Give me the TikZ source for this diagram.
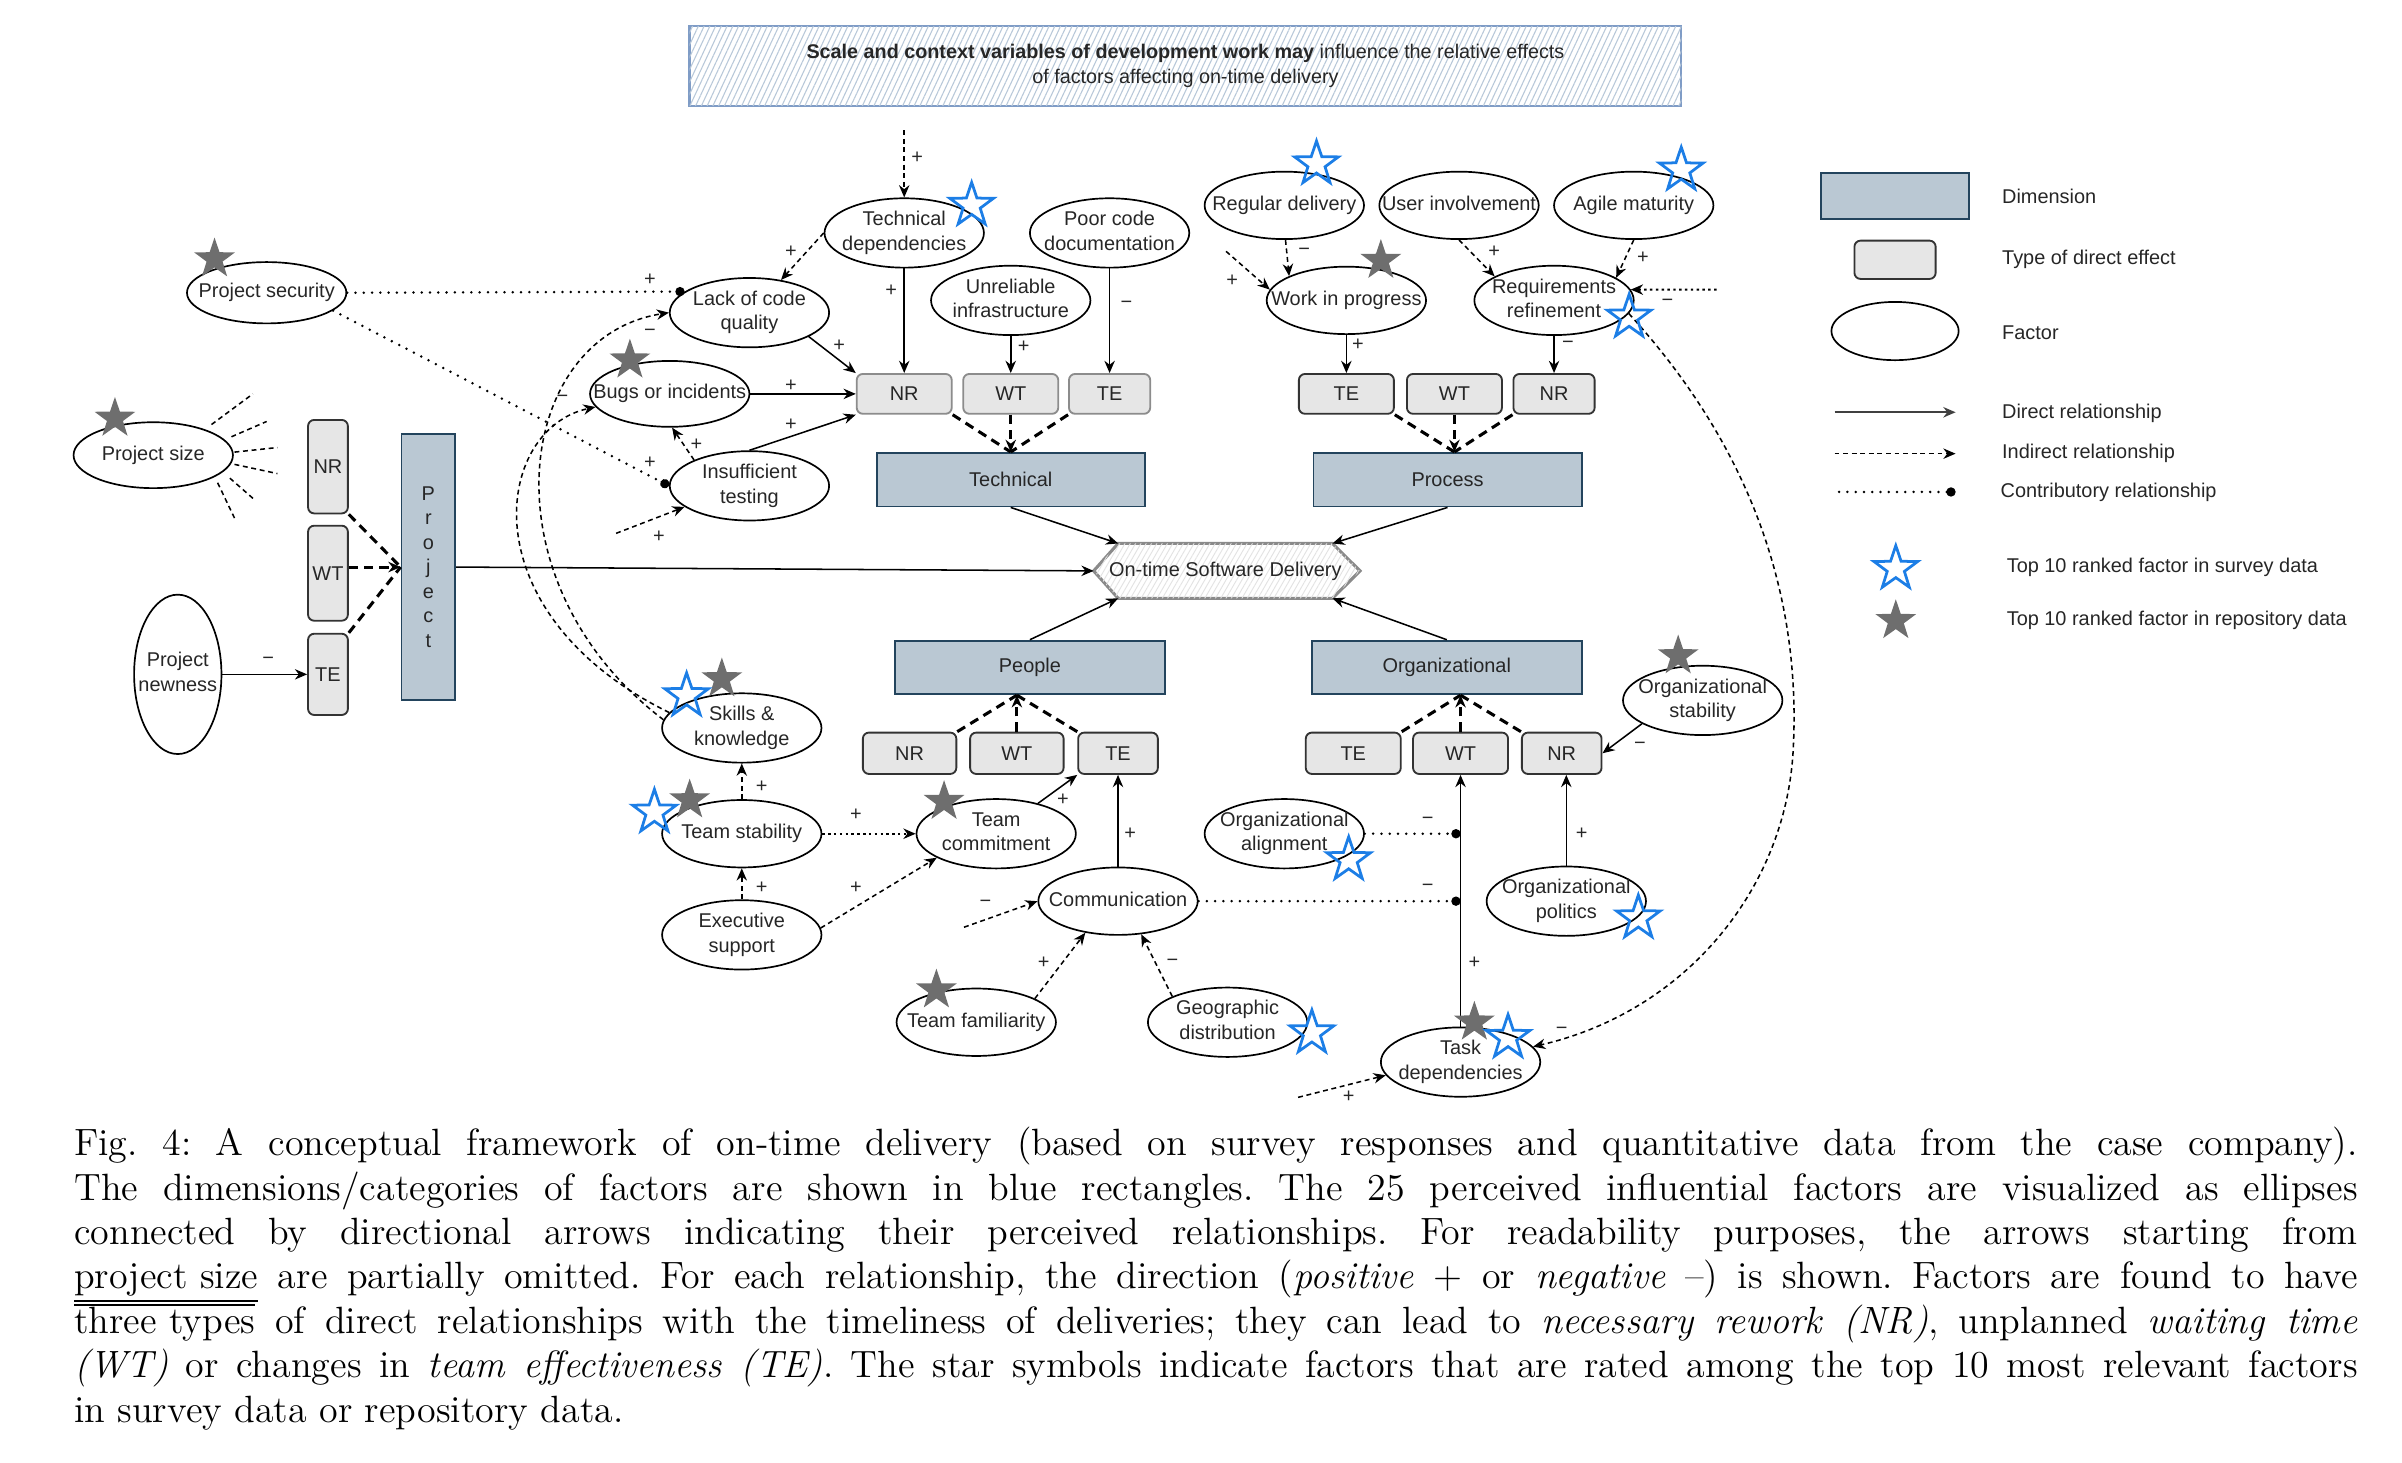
\documentclass[tikz,border=0pt]{standalone}
\usepackage{fontspec}
\newfontfamily\dsans{Liberation Sans}
\usetikzlibrary{shapes.geometric,arrows.meta,calc,patterns.meta,backgrounds}
\definecolor{dimfill}{HTML}{BAC8D3}
\definecolor{dimdraw}{HTML}{23445D}
\definecolor{tfill}{HTML}{E6E6E6}
\definecolor{tdraw}{HTML}{333333}
\definecolor{tdrawl}{HTML}{8C8C8C}
\definecolor{txt}{HTML}{262626}
\definecolor{starb}{HTML}{1C7EE6}
\definecolor{starg}{HTML}{6E6E6E}
\definecolor{topdraw}{HTML}{7F9CC6}
\definecolor{hatchc}{HTML}{B8C8D9}
\definecolor{hexdraw}{HTML}{8A8A8A}
\definecolor{hexhatch}{HTML}{E3E3E3}
\newcommand\dfont{\dsans\fontsize{6.5}{8}\selectfont}
\newcommand\lfont{\dsans\fontsize{6.5}{7.5}\selectfont}
\newcommand\capf{\rmfamily\fontsize{12.4}{14.8}\selectfont\frenchspacing}
\newcommand\fct[1]{\makebox[0pt]{\begin{tabular}{@{}c@{}}#1\end{tabular}}}
\newcommand\myovl[1]{\setbox0\hbox{#1}\rlap{\raisebox{8.8pt}{\rule{\wd0}{0.7pt}}}\box0\relax}
\begin{document}
\begin{tikzpicture}[x=0.5pt,y=-0.5pt,
 fac/.style={ellipse, draw=black, line width=0.55pt, minimum width=52pt, minimum height=22pt, inner sep=0pt, font=\dfont, text=txt},
 tb/.style={rectangle, rounded corners=2pt, draw=tdraw, fill=tfill, line width=0.6pt, minimum width=31pt, minimum height=13pt, inner sep=0pt, font=\dfont, text=txt},
 dimb/.style={rectangle, draw=dimdraw, fill=dimfill, line width=0.6pt, minimum width=87.5pt, minimum height=17.5pt, inner sep=0pt, font=\dfont, text=txt},
 dirc/.style={line width=0.5pt, -{Stealth[length=4pt,width=3.4pt]}},
 indc/.style={line width=0.5pt, dash pattern=on 1.6pt off 1.2pt, -{Stealth[length=4pt,width=3.4pt]}},
 indd/.style={line width=0.6pt, dash pattern=on 0.8pt off 1.1pt, -{Stealth[length=4pt,width=3.4pt]}},
 conc/.style={line width=0.9pt, dash pattern=on 0pt off 2.7pt, line cap=round, -{Circle[length=3pt]}},
 thd/.style={line width=1pt, dash pattern=on 3pt off 2pt},
 rayc/.style={line width=0.5pt, dash pattern=on 1.6pt off 1.2pt},
 lab/.style={font=\dsans\fontsize{6.5}{7}\selectfont, text=txt, inner sep=0pt},
 bst/.style={star, star points=5, star point ratio=2.55, draw=starb, line width=0.9pt, minimum size=15pt, inner sep=0pt},
 gst/.style={star, star points=5, star point ratio=2.55, fill=starg, minimum size=14pt, inner sep=0pt},
 lgt/.style={font=\lfont, text=txt, anchor=west, inner sep=0pt},
 capn/.style={anchor=base west, inner sep=0pt, font=\capf},
 topbox/.style={rectangle, draw=topdraw, line width=0.8pt, fill=white, minimum width=323.5pt, minimum height=26pt, inner sep=0pt, font=\dsans\fontsize{6.45}{8}\selectfont, text=txt, postaction={pattern={Lines[angle=65,distance=1.7pt,line width=0.35pt]}, pattern color=hatchc}}
]
\useasboundingbox (0,0) rectangle (1567.3,954);

% ---------- top box
\node[topbox] (scale) at (773.5,43) {\begin{tabular}{@{}c@{}}\textbf{Scale and context variables of development work may} influence the relative effects\\of factors affecting on-time delivery\end{tabular}};

% ---------- technical factors
\node[fac] (tdep) at (590,152) {\fct{Technical\\dependencies}};
\node[fac] (pcd) at (724,152) {\fct{Poor code\\documentation}};
\node[fac] (uinf) at (659.5,196) {\fct{Unreliable\\infrastructure}};
\node[fac] (lcq) at (489,204) {\fct{Lack of code\\quality}};
\node[fac, minimum height=20pt] (psec) at (174,191) {\fct{Project security}};
\node[fac, minimum height=21.5pt] (bugs) at (437,257) {\fct{Bugs or incidents}};
\node[fac] (itest) at (489,317) {\fct{Insufficient\\testing}};
\node[fac, minimum height=21.5pt] (psize) at (100,297) {\fct{Project size}};
\node[fac, minimum width=28.5pt, minimum height=52pt] (pnew) at (116,440) {\fct{Project\\newness}};

% ---------- process factors
\node[fac] (rdel) at (838,134) {\fct{Regular delivery}};
\node[fac] (uinv) at (952,134) {\fct{User involvement}};
\node[fac] (agile) at (1066,134) {\fct{Agile maturity}};
\node[fac] (wip) at (878.5,196) {\fct{Work in progress}};
\node[fac] (rref) at (1014,196) {\fct{Requirements\\refinement}};

% ---------- people factors
\node[fac] (skills) at (484,475) {\fct{Skills \&\\knowledge}};
\node[fac] (tstab) at (484,544) {\fct{Team stability}};
\node[fac] (exec) at (484,610) {\fct{Executive\\support}};
\node[fac] (tcom) at (650,544) {\fct{Team\\commitment}};
\node[fac] (comm) at (729.5,588) {\fct{Communication}};
\node[fac] (tfam) at (637,667) {\fct{Team familiarity}};
\node[fac] (geo) at (801,667) {\fct{Geographic\\distribution}};

% ---------- organizational factors
\node[fac] (oalign) at (838,544) {\fct{Organizational\\alignment}};
\node[fac] (opol) at (1022,588) {\fct{Organizational\\politics}};
\node[fac] (ostab) at (1111,457) {\fct{Organizational\\stability}};
\node[fac] (tdeps) at (953,693) {\fct{Task\\dependencies}};

% ---------- type boxes
\node[tb, draw=tdrawl] (tNR) at (590,257) {NR};
\node[tb, draw=tdrawl] (tWT) at (659.5,257) {WT};
\node[tb, draw=tdrawl, minimum width=26.5pt] (tTE) at (724,257) {TE};
\node[tb] (pTE) at (878.5,257) {TE};
\node[tb] (pWT) at (949,257) {WT};
\node[tb, minimum width=26.5pt] (pNR) at (1014,257) {NR};
\node[tb, minimum width=30.5pt, minimum height=13.5pt] (peNR) at (593.5,491.5) {NR};
\node[tb, minimum width=30.5pt, minimum height=13.5pt] (peWT) at (663.5,491.5) {WT};
\node[tb, minimum width=26pt, minimum height=13.5pt] (peTE) at (729.5,491.5) {TE};
\node[tb, minimum height=13.5pt] (oTE) at (883,491.5) {TE};
\node[tb, minimum height=13.5pt] (oWT) at (953,491.5) {WT};
\node[tb, minimum width=26pt, minimum height=13.5pt] (oNR) at (1019,491.5) {NR};
\node[tb, minimum width=13pt, minimum height=30.5pt] (jNR) at (214,304.5) {NR};
\node[tb, minimum width=13pt, minimum height=31pt] (jWT) at (214,374) {WT};
\node[tb, minimum width=13pt, minimum height=26.5pt] (jTE) at (214,440) {TE};

% ---------- dimensions
\node[dimb] (tech) at (659.5,313) {Technical};
\node[dimb] (proc) at (944.5,313) {Process};
\node[dimb, minimum width=88pt] (people) at (672,435.5) {People};
\node[dimb, minimum width=88pt] (org) at (944,435.5) {Organizational};
\node[dimb, minimum width=17.5pt, minimum height=87pt, align=center] (proj) at (279.5,370) {P\\r\\o\\j\\e\\c\\t};

% ---------- on-time delivery
\node[rectangle, minimum width=69.5pt, minimum height=17.5pt, inner sep=0pt, font=\dfont, text=txt] (ot) at (799.5,372.5) {\makebox[0pt]{On-time Software Delivery}};
\coordinate (otL) at ($(ot.west)+(-16,0)$);
\coordinate (otR) at ($(ot.east)+(18,0)$);
\begin{scope}[on background layer]
\draw[hexdraw, line width=1pt, fill=white, postaction={pattern={Lines[angle=60,distance=1.5pt,line width=0.3pt]}, pattern color=hexhatch}] (ot.north west) -- (ot.north east) -- (otR) -- (ot.south east) -- (ot.south west) -- (otL) -- cycle;
\end{scope}

% ---------- technical connectors
\coordinate (tdin) at (590,85);
\draw[indc] (tdin) -- (tdep.north);
\node[lab] (l1) at (598.5,103) {+};
\draw[dirc] (tdep.south) -- (tNR.north);
\node[lab] (l2) at (581.5,190) {+};
\draw[dirc] (uinf.south) -- (uinf.south |- tWT.north);
\node[lab] (l3) at (668,226) {+};
\draw[dirc] (pcd.south) -- (pcd.south |- tTE.north);
\node[lab] (l4) at (735,199) {−};
\draw[dirc] (lcq.-22) -- (tNR.north west);
\node[lab] (l5) at (547.5,225.5) {+};
\draw[dirc] (bugs.east) -- (tNR.west);
\node[lab] (l6) at (516,251.5) {+};
\draw[dirc] (itest.north) -- (tNR.south west);
\node[lab] (l7) at (516,277) {+};
\draw[indc] (tdep.west) -- (lcq.46);
\node[lab] (l8) at (516,164.5) {+};
\draw[conc] (psec.east) -- (lcq.162);
\node[lab] (l9) at (424,182.5) {+};
\draw[conc] (psec.-15) -- (itest.west);
\node[lab] (l10) at (424,302) {+};
\draw[indc] (itest.155) -- (bugs.-86);
\node[lab] (l11) at (454.5,290.5) {+};
\coordinate (itin) at (402,348);
\draw[indc] (itin) -- (itest.198);
\node[lab] (l12) at (430,350) {+};
\draw[indc] (skills.174) .. controls (315,380) and (335,220) .. (lcq.west);
\node[lab] (l13) at (424,217) {−};
\draw[indc] (skills.168) .. controls (305,400) and (322,280) .. (bugs.190);
\node[lab] (l14) at (367,260) {−};

% ---------- project connectors
\draw[rayc] ($(psize.center)+(38,-20)$) -- ($(psize.center)+(65,-40)$);
\draw[rayc] ($(psize.center)+(51,-12)$) -- ($(psize.center)+(74,-22)$);
\draw[rayc] ($(psize.center)+(53,-2)$) -- ($(psize.center)+(81,-5)$);
\draw[rayc] ($(psize.center)+(53,6)$) -- ($(psize.center)+(81,12)$);
\draw[rayc] ($(psize.center)+(50,15)$) -- ($(psize.center)+(66,29)$);
\draw[rayc] ($(psize.center)+(42,18)$) -- ($(psize.center)+(53,41)$);
\draw[thd] (jNR.south east) -- (proj.west);
\draw[thd, -{Stealth[length=4pt,width=3.4pt]}] (jWT.east |- proj.west) -- (proj.west);
\draw[thd] (jTE.north east) -- (proj.west);
\draw[dirc] (pnew.east) -- (jTE.west);
\node[lab] (l15) at (175,431) {−};
\draw[dirc] (proj.east) -- (otL);

% ---------- dimensions to delivery
\draw[dirc] (tech.south) -- (ot.north west);
\draw[dirc] (proc.south) -- (ot.north east);
\draw[dirc] (people.north) -- (ot.south west);
\draw[dirc] (org.north) -- (ot.south east);

% ---------- type boxes to dimensions
\coordinate (techin) at (tWT.south |- tech.north);
\draw[thd] (tNR.south east) -- (techin);
\draw[thd, -{Stealth[length=4pt,width=3.4pt]}] (tWT.south) -- (techin);
\draw[thd] (tTE.south west) -- (techin);
\coordinate (procin) at (pWT.south |- proc.north);
\draw[thd] (pTE.south east) -- (procin);
\draw[thd, -{Stealth[length=4pt,width=3.4pt]}] (pWT.south) -- (procin);
\draw[thd] (pNR.south west) -- (procin);
\coordinate (peoin) at (peWT.north |- people.south);
\draw[thd] (peNR.north east) -- (peoin);
\draw[thd, -{Stealth[length=4pt,width=3.4pt]}] (peWT.north) -- (peoin);
\draw[thd] (peTE.north west) -- (peoin);
\coordinate (orgin) at (oWT.north |- org.south);
\draw[thd] (oTE.north east) -- (orgin);
\draw[thd, -{Stealth[length=4pt,width=3.4pt]}] (oWT.north) -- (orgin);
\draw[thd] (oNR.north west) -- (orgin);

% ---------- process connectors
\draw[indc] (rdel.-88) -- (wip.157);
\node[lab] (l16) at (851,164) {−};
\draw[indc] (uinv.south) -- (rref.158);
\node[lab] (l17) at (975,164) {+};
\draw[indc] (agile.south) -- (rref.20);
\node[lab] (l18) at (1072,168) {+};
\coordinate (wipin) at (800,164);
\draw[indc] (wipin) -- (wip.172);
\node[lab] (l19) at (804,183) {+};
\coordinate (rrefin) at (1120,189);
\draw[indd] (rrefin) -- (rref.8);
\node[lab] (l20) at (1088,197.5) {−};
\draw[dirc] (wip.south) -- (wip.south |- pTE.north);
\node[lab] (l21) at (886,225) {+};
\draw[dirc] (rref.south) -- (rref.south |- pNR.north);
\node[lab] (l22) at (1023,225) {−};
\draw[indc] (rref.-10) .. controls (1150,300) and (1175,400) .. (1170,490) .. controls (1165,580) and (1100,660) .. (tdeps.12);
\node[lab] (l23) at (1019,672.5) {−};

% ---------- people connectors
\draw[indc] (tstab.north) -- (skills.south);
\node[lab] (l24) at (497,513.5) {+};
\draw[indc] (exec.north) -- (tstab.south);
\node[lab] (l25) at (497,579) {+};
\draw[indd] (tstab.east) -- (tcom.west);
\node[lab] (l26) at (558.5,531.5) {+};
\draw[indc] (exec.5) -- (tcom.-158);
\node[lab] (l27) at (558.5,579) {+};
\draw[dirc] (tcom.36) -- (peTE.south west);
\node[lab] (l28) at (693.5,521.5) {+};
\draw[dirc] (comm.north) -- (comm.north |- peTE.south);
\node[lab] (l29) at (737.5,544) {+};
\coordinate (commin) at (629,605);
\draw[indc] (commin) -- (comm.west);
\node[lab] (l30) at (643,589.5) {−};
\draw[indc] (tfam.22) -- (comm.-136);
\node[lab] (l31) at (681,628) {+};
\draw[indc] (geo.155) -- (comm.-55);
\node[lab] (l32) at (765,628) {−};

% ---------- organizational connectors
\draw[dirc] (ostab.-159) -- (oNR.east);
\node[lab] (l33) at (1070,486.5) {−};
\draw[dirc] (tdeps.north) -- (tdeps.north |- oWT.south);
\node[lab] (l34) at (962,628) {+};
\draw[dirc] (opol.north) -- (opol.north |- oNR.south);
\node[lab] (l35) at (1032,544) {+};
\coordinate (dA) at (tdeps.north |- oalign.east);
\draw[conc] (oalign.east) -- (dA);
\node[lab] (l36) at (931.5,535.5) {−};
\coordinate (dC) at (tdeps.north |- comm.east);
\draw[conc] (comm.east) -- (dC);
\node[lab] (l37) at (931.5,579) {−};
\coordinate (tdin2) at (847,716);
\draw[indc] (tdin2) -- (tdeps.190);
\node[lab] (l38) at (880,715.5) {+};

% ---------- stars
\node[bst] (s1) at (634,134) {};
\node[gst] (s2) at (140,169) {};
\node[gst] (s3) at (411,235) {};
\node[gst] (s4) at (75,273) {};
\node[bst] (s5) at (859,107) {};
\node[bst] (s6) at (1097,111) {};
\node[gst] (s7) at (901,170) {};
\node[bst] (s8) at (1063,207) {};
\node[gst] (s9) at (471,443) {};
\node[bst] (s10) at (448,454) {};
\node[gst] (s11) at (450,522) {};
\node[bst] (s12) at (427,530) {};
\node[gst] (s13) at (616,523) {};
\node[gst] (s14) at (611,646) {};
\node[bst] (s15) at (856,674) {};
\node[bst] (s16) at (880,561) {};
\node[bst] (s17) at (1069,599) {};
\node[gst] (s18) at (1095,428) {};
\node[gst] (s19) at (962,667) {};
\node[bst] (s20) at (984,677) {};

% ---------- legend
\node[dimb, minimum width=48.5pt, minimum height=15pt] (lgdim) at (1236.5,128) {};
\node[tb, minimum width=26.5pt, minimum height=12.5pt] (lgtb) at (1236.5,169.5) {};
\node[fac, minimum width=41.5pt, minimum height=19pt] (lgfac) at (1236.5,216) {};
\coordinate (lga1) at (1197,269); \coordinate (lgb1) at (1276,269);
\draw[dirc, draw=black!75, line width=0.7pt] (lga1) -- (lgb1);
\coordinate (lga2) at (1197,296); \coordinate (lgb2) at (1276,296);
\draw[indc] (lga2) -- (lgb2);
\coordinate (lga3) at (1200,321); \coordinate (lgb3) at (1276,321);
\draw[conc] (lga3) -- (lgb3);
\node[bst] (lgs1) at (1237,371) {};
\node[gst] (lgs2) at (1237,405) {};
\node[lgt] (lt1) at (1306,128) {Dimension};
\node[lgt] (lt2) at (1306,169.5) {Type of direct effect};
\node[lgt] (lt3) at (1306,217) {Factor};
\node[lgt] (lt4) at (1306,270) {Direct relationship};
\node[lgt] (lt5) at (1306,296) {Indirect relationship};
\node[lgt] (lt6) at (1305,321) {Contributory relationship};
\node[lgt] (lt7) at (1309,370) {Top 10 ranked factor in survey data};
\node[lgt] (lt8) at (1309,405) {Top 10 ranked factor in repository data};

% ---------- caption
\node[capn] (cap1) at (48,754) {\hbox to 745pt{Fig. 4: A conceptual framework of on-time delivery (based on survey responses and quantitative data from the case company).}};
\node[capn] (cap2) at (48,783) {\hbox to 745pt{The dimensions/categories of factors are shown in blue rectangles. The 25 perceived influential factors are visualized as ellipses}};
\node[capn] (cap3) at (48,812) {\hbox to 745pt{connected by directional arrows indicating their perceived relationships. For readability purposes, the arrows starting from}};
\node[capn] (cap4) at (48,841) {\hbox to 745pt{\underline{project size} are partially omitted. For each relationship, the direction (\textit{positive} + or \textit{negative} --) is shown. Factors are found to have}};
\node[capn] (cap5) at (48,870) {\hbox to 745pt{\myovl{three types} of direct relationships with the timeliness of deliveries; they can lead to \textit{necessary rework (NR)}, unplanned \textit{waiting time}}};
\node[capn] (cap6) at (48,899) {\hbox to 745pt{\textit{(WT)} or changes in \textit{team effectiveness (TE)}. The star symbols indicate factors that are rated among the top 10 most relevant factors}};
\node[capn] (cap7) at (48,928) {in survey data or repository data.};
\end{tikzpicture}
\end{document}
